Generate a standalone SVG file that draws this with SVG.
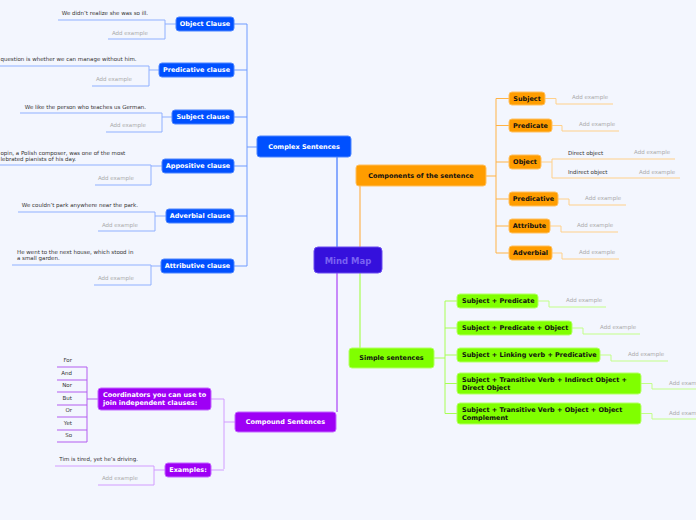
<svg xmlns="http://www.w3.org/2000/svg" width="696" height="520" viewBox="0 0 696 520">
<style>
text { font-family: "DejaVu Sans", Verdana, sans-serif; }
.nt { font-size: 6.5px; font-weight: bold; fill: #ffffff; text-anchor: middle; }
.nb { font-size: 6.5px; font-weight: bold; fill: #111111; text-anchor: middle; }
.nbl { font-size: 6.5px; font-weight: bold; fill: #111111; }
.ntl { font-size: 6.5px; font-weight: bold; fill: #ffffff; }
.ex { font-size: 5.5px; fill: #333333; }
.ad { font-size: 5.5px; fill: #aaaaaa; }
.end { text-anchor: end; }
.blue { fill: #0050ff; stroke: #4d85ff; stroke-width: 1; }
.orange { fill: #ff9d00; stroke: #ffc060; stroke-width: 1; }
.green { fill: #80ff00; stroke: #b3ff66; stroke-width: 1; }
.purple { fill: #9e00f5; stroke: #c266ff; stroke-width: 1; }
.c { fill: none; stroke-width: 1; }
</style>
<rect x="0" y="0" width="696" height="520" fill="#f3f6fe"/>

<g id="connectors">
  <path class="c" stroke="#1f5fff" stroke-width="1.5" d="M337,157 V248"/>
  <path class="c" stroke="#ffa733" stroke-width="1.5" d="M360,186 V248"/>
  <path class="c" stroke="#99ff33" stroke-width="1.5" d="M360,273 V348"/>
  <path class="c" stroke="#9b1cf5" stroke-width="1.5" d="M337,273 V412"/>

  <path class="c" stroke="#6f9bff" d="M257,147 H247 M247,24 V266 M234,24 H247 M234,70 H247 M234,117 H247 M234,166 H247 M234,216 H247 M234,266 H247"/>
  <path class="c" stroke="#8fb0ff" d="M176,24 H165 M165,20 V39 M58,20 H165 M108,39 H165"/>
  <path class="c" stroke="#8fb0ff" d="M159,70 H149 M149,66 V86 M0,66 H149 M92,86 H149"/>
  <path class="c" stroke="#8fb0ff" d="M172,117 H162 M162,113 V132 M20,113 H162 M106,132 H162"/>
  <path class="c" stroke="#8fb0ff" d="M162,166 H151 M151,165 V185 M0,165 H151 M95,185 H151"/>
  <path class="c" stroke="#8fb0ff" d="M166,216 H155 M155,212 V231 M18,212 H155 M98,231 H155"/>
  <path class="c" stroke="#8fb0ff" d="M161,266 H151 M151,265 V285 M12,265 H151 M94,285 H151"/>

  <path class="c" stroke="#ffb347" d="M486,176 H496 M496,98.5 V253 M496,98.5 H509 M496,125.5 H509 M496,162 H509 M496,199 H509 M496,226 H509 M496,253 H509"/>
  <path class="c" stroke="#ffd08a" d="M545,98.5 H556 V104 H613 M552,125.5 H562 V131 H619 M541,162 H552 M552,159 V178 M552,159 H675 M552,178 H680 M558,199 H569 V205 H626 M550,226 H561 V232 H618 M552,253 H562 V259 H619"/>

  <path class="c" stroke="#a8ff55" d="M434,358 H445 M445,301 V413.5 M445,301 H457 M445,328 H457 M445,355 H457 M445,383.5 H457 M445,413.5 H457"/>
  <path class="c" stroke="#c2ff88" d="M538,301 H549 V307 H606 M572,328 H583 V334 H640 M600,355 H611 V361 H668 M641,383.5 H652 V389 H696 M641,413.5 H652 V419 H696"/>

  <path class="c" stroke="#d29cff" d="M235,422 H224 M224,399 V469 M211,399 H224 M211,470 H224"/>
  <path class="c" stroke="#b35cf0" d="M98,399 H87 M87,367 V442 M57,367 H87 M57,380 H87 M57,392 H87 M57,405 H87 M57,417 H87 M57,430 H87 M57,442 H87"/>
  <path class="c" stroke="#d29cff" d="M165,470 H154 M154,466 V485 M55,466 H154 M98,485 H154"/>
</g>

<g id="mindmap">
  <rect x="314" y="247" width="68" height="26" rx="4" fill="#3510dc" stroke="#6a4cf0" stroke-width="1"/>
  <text x="348" y="263.5" font-size="8.5" font-weight="bold" fill="#7a62f2" text-anchor="middle">Mind Map</text>
</g>

<g id="complex">
  <rect class="blue" x="257" y="136" width="94" height="21" rx="3"/>
  <text class="nt" x="304" y="149">Complex Sentences</text>
</g>
<g id="object-clause">
  <rect class="blue" x="176" y="17" width="58" height="14" rx="3"/>
  <text class="nt" x="205" y="26.3">Object Clause</text>
  <text class="ex end" x="148" y="15">We didn’t realize she was so ill.</text>
  <text class="ad end" x="148" y="35">Add example</text>
</g>
<g id="predicative-clause">
  <rect class="blue" x="159" y="63" width="75" height="14" rx="3"/>
  <text class="nt" x="196.5" y="72.3">Predicative clause</text>
  <text class="ex" x="0.5" y="61">question is whether we can manage without him.</text>
  <text class="ad end" x="132" y="81">Add example</text>
</g>
<g id="subject-clause">
  <rect class="blue" x="172" y="110" width="62" height="14" rx="3"/>
  <text class="nt" x="203" y="119.3">Subject clause</text>
  <text class="ex end" x="146" y="109">We like the person who teaches us German.</text>
  <text class="ad end" x="146" y="127">Add example</text>
</g>
<g id="appositive-clause">
  <rect class="blue" x="162" y="159" width="72" height="14" rx="3"/>
  <text class="nt" x="198" y="168.3">Appositive clause</text>
  <text class="ex" x="0.5" y="154.5">opin, a Polish composer, was one of the most</text>
  <text class="ex" x="0.5" y="161">lebrated pianists of his day.</text>
  <text class="ad end" x="134" y="180">Add example</text>
</g>
<g id="adverbial-clause">
  <rect class="blue" x="166" y="209" width="68" height="14" rx="3"/>
  <text class="nt" x="200" y="218.3">Adverbial clause</text>
  <text class="ex end" x="138" y="207">We couldn’t park anywhere near the park.</text>
  <text class="ad end" x="138" y="227">Add example</text>
</g>
<g id="attributive-clause">
  <rect class="blue" x="161" y="259" width="73" height="14" rx="3"/>
  <text class="nt" x="197.5" y="268.3">Attributive clause</text>
  <text class="ex" x="17" y="253.5">He went to the next house, which stood in</text>
  <text class="ex" x="17" y="260">a small garden.</text>
  <text class="ad end" x="134" y="280">Add example</text>
</g>

<g id="components">
  <rect class="orange" x="356" y="165" width="130" height="21" rx="3"/>
  <text class="nb" x="421" y="178.3">Components of the sentence</text>
</g>
<g id="subject">
  <rect class="orange" x="509" y="92" width="36" height="13" rx="3"/>
  <text class="nb" x="527" y="100.8">Subject</text>
  <text class="ad" x="572" y="99">Add example</text>
</g>
<g id="predicate">
  <rect class="orange" x="509" y="119" width="43" height="13" rx="3"/>
  <text class="nb" x="530.5" y="127.8">Predicate</text>
  <text class="ad" x="579" y="126">Add example</text>
</g>
<g id="object">
  <rect class="orange" x="509" y="155" width="32" height="14" rx="3"/>
  <text class="nb" x="525" y="164.3">Object</text>
  <text class="ex" x="568" y="154.5">Direct object</text>
  <text class="ad" x="634" y="153.5">Add example</text>
  <text class="ex" x="568" y="173.5">Indirect object</text>
  <text class="ad" x="639" y="173.5">Add example</text>
</g>
<g id="predicative">
  <rect class="orange" x="509" y="192" width="49" height="14" rx="3"/>
  <text class="nb" x="533.5" y="201.3">Predicative</text>
  <text class="ad" x="585" y="200">Add example</text>
</g>
<g id="attribute">
  <rect class="orange" x="509" y="219" width="41" height="14" rx="3"/>
  <text class="nb" x="529.5" y="228.3">Attribute</text>
  <text class="ad" x="577" y="227">Add example</text>
</g>
<g id="adverbial">
  <rect class="orange" x="509" y="246" width="43" height="14" rx="3"/>
  <text class="nb" x="530.5" y="255.3">Adverbial</text>
  <text class="ad" x="579" y="254">Add example</text>
</g>

<g id="simple">
  <rect class="green" x="349" y="348" width="85" height="20" rx="3"/>
  <text class="nb" x="391.5" y="360.3">Simple sentences</text>
</g>
<g id="sp">
  <rect class="green" x="457" y="294" width="81" height="14" rx="3"/>
  <text class="nbl" x="462" y="303.3">Subject + Predicate</text>
  <text class="ad" x="566" y="302">Add example</text>
</g>
<g id="spo">
  <rect class="green" x="457" y="321" width="115" height="14" rx="3"/>
  <text class="nbl" x="462" y="330.3">Subject + Predicate + Object</text>
  <text class="ad" x="600" y="329">Add example</text>
</g>
<g id="slvp">
  <rect class="green" x="457" y="348" width="143" height="14" rx="3"/>
  <text class="nbl" x="462" y="357.3">Subject + Linking verb + Predicative</text>
  <text class="ad" x="628" y="356">Add example</text>
</g>
<g id="stviodo">
  <rect class="green" x="457" y="373" width="184" height="21" rx="3"/>
  <text class="nbl" x="462" y="381.5">Subject + Transitive Verb + Indirect Object +</text>
  <text class="nbl" x="462" y="389.5">Direct Object</text>
  <text class="ad" x="669" y="385">Add exam</text>
</g>
<g id="stvooc">
  <rect class="green" x="457" y="403" width="184" height="21" rx="3"/>
  <text class="nbl" x="462" y="411.5">Subject + Transitive Verb + Object + Object</text>
  <text class="nbl" x="462" y="419.5">Complement</text>
  <text class="ad" x="669" y="415">Add exam</text>
</g>

<g id="compound">
  <rect class="purple" x="235" y="412" width="101" height="20" rx="3"/>
  <text class="nt" x="285.5" y="424.3">Compound Sentences</text>
</g>
<g id="coordinators">
  <rect class="purple" x="98" y="388" width="113" height="22" rx="3"/>
  <text class="ntl" x="103" y="396.5">Coordinators you can use to</text>
  <text class="ntl" x="103" y="404.5">join independent clauses:</text>
  <text class="ex end" x="72" y="362">For</text>
  <text class="ex end" x="72" y="375">And</text>
  <text class="ex end" x="72" y="387">Nor</text>
  <text class="ex end" x="72" y="400">But</text>
  <text class="ex end" x="72" y="412">Or</text>
  <text class="ex end" x="72" y="425">Yet</text>
  <text class="ex end" x="72" y="437">So</text>
</g>
<g id="examples">
  <rect class="purple" x="165" y="463" width="46" height="14" rx="3"/>
  <text class="nt" x="188" y="472.3">Examples:</text>
  <text class="ex end" x="138" y="461">Tim is tired, yet he’s driving.</text>
  <text class="ad end" x="138" y="480">Add example</text>
</g>
</svg>
